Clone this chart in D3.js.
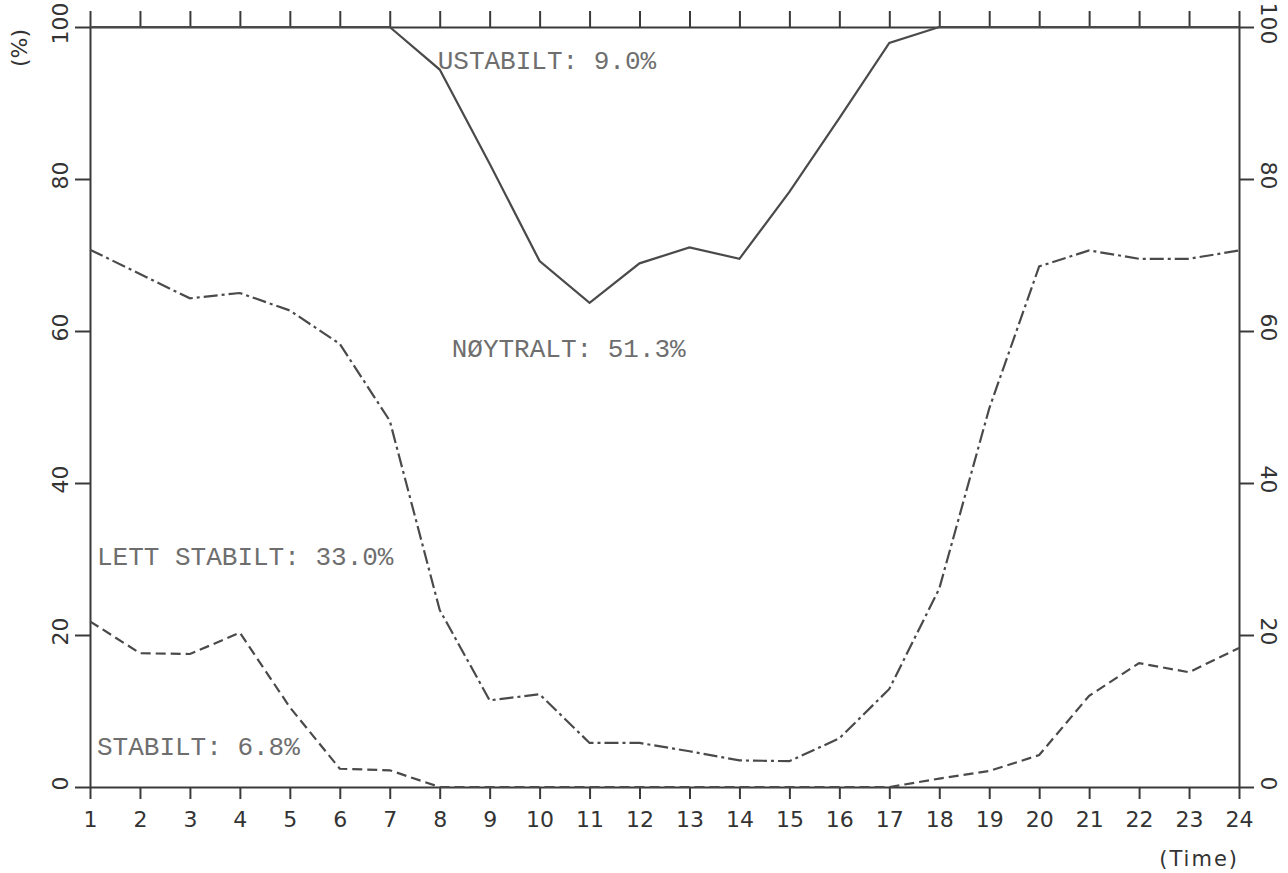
<!DOCTYPE html>
<html>
<head>
<meta charset="utf-8">
<script src="https://cdn.jsdelivr.net/npm/d3@7"></script>
<style>
  body { margin: 0; background: #fff; }
  svg { display: block; }
</style>
</head>
<body>
<div id="chart"></div>
<script>
// hours of the day
var hours = d3.range(1, 25);

// cumulative frequency (%) per hour
var stabilt = [21.8, 17.6, 17.5, 20.3, 10.5, 2.4, 2.2, 0, 0, 0, 0, 0,
               0, 0, 0, 0, 0, 1.1, 2.1, 4.2, 12.0, 16.3, 15.1, 18.3];
var lettStabilt = [70.7, 67.5, 64.3, 65.0, 62.7, 58.3, 48.2, 23.3, 11.4, 12.2, 5.8, 5.8,
                   4.7, 3.5, 3.4, 6.4, 12.9, 26.1, 49.8, 68.5, 70.6, 69.5, 69.5, 70.6];
var noytralt = [100, 100, 100, 100, 100, 100, 100, 94.4, 82.0, 69.2, 63.7, 68.9,
                71.0, 69.5, 78.3, 88.0, 97.9, 100, 100, 100, 100, 100, 100, 100];

var yTicks = [0, 20, 40, 60, 80, 100];

var labels = [
  {text: "USTABILT: 9.0%", hour: 7.96, value: 94.5},
  {text: "NØYTRALT: 51.3%", hour: 8.24, value: 56.6},
  {text: "LETT STABILT: 33.0%", hour: 1.14, value: 29.2},
  {text: "STABILT: 6.8%", hour: 1.14, value: 4.2}
];

var W = 1288, H = 873;
var margin = {top: 27, right: 49, bottom: 86, left: 90};

var svg = d3.select("#chart")
  .append("svg")
    .attr("width", W)
    .attr("height", H);

var x = d3.scaleLinear()
  .domain([1, 24])
  .range([margin.left, W - margin.right]);

var y = d3.scaleLinear()
  .domain([0, 100])
  .range([H - margin.bottom, margin.top]);

var axisColor = "#3a3a3a";
var tickFont = "'DejaVu Sans', sans-serif";

function styleAxis(g) {
  g.selectAll("path, line").attr("stroke", axisColor).attr("stroke-width", 2);
  g.selectAll("text").attr("fill", "#333").style("font-family", tickFont).style("font-size", "22px");
}

// bottom axis
svg.append("g")
  .attr("transform", "translate(0," + y(0) + ")")
  .call(d3.axisBottom(x).tickValues(hours).tickFormat(d3.format("d")).tickSize(12).tickSizeOuter(0).tickPadding(12))
  .call(styleAxis);

// top axis (ticks only)
svg.append("g")
  .attr("transform", "translate(0," + y(100) + ")")
  .call(d3.axisTop(x).tickValues(hours).tickFormat("").tickSize(16).tickSizeOuter(0))
  .call(styleAxis);

// left axis
svg.append("g")
  .attr("transform", "translate(" + x(1) + ",0)")
  .call(d3.axisLeft(y).tickValues(yTicks).tickSize(15).tickSizeOuter(0))
  .call(styleAxis)
  .selectAll("text")
    .attr("x", null).attr("dy", null)
    .attr("text-anchor", "middle")
    .attr("transform", "translate(-22,-4) rotate(-90)");

// right axis
svg.append("g")
  .attr("transform", "translate(" + x(24) + ",0)")
  .call(d3.axisRight(y).tickValues(yTicks).tickSize(15).tickSizeOuter(0))
  .call(styleAxis)
  .selectAll("text")
    .attr("x", null).attr("dy", null)
    .attr("text-anchor", "middle")
    .attr("transform", "translate(22,-4) rotate(90)");

// axis titles
svg.append("text")
  .attr("transform", "translate(27,48) rotate(-90)")
  .attr("text-anchor", "middle")
  .attr("fill", "#333")
  .style("font-family", tickFont)
  .style("font-size", "22px")
  .text("(%)");

svg.append("text")
  .attr("x", x(24))
  .attr("y", 866)
  .attr("text-anchor", "end")
  .attr("fill", "#333")
  .style("font-family", tickFont)
  .style("font-size", "21px")
  .style("letter-spacing", "2px")
  .text("(Time)");

// lines
var line = d3.line()
  .x(function(d, i) { return x(hours[i]); })
  .y(function(d) { return y(d); });

var series = [
  {values: noytralt, dash: null},
  {values: lettStabilt, dash: "14,4,3,4"},
  {values: stabilt, dash: "10,5"}
];

svg.selectAll(".series")
  .data(series)
  .enter()
  .append("path")
    .attr("class", "series")
    .attr("d", function(d) { return line(d.values); })
    .attr("fill", "none")
    .attr("stroke", "#4a4a4a")
    .attr("stroke-width", 2.2)
    .attr("stroke-dasharray", function(d) { return d.dash; });

// class labels
svg.selectAll(".lbl")
  .data(labels)
  .enter()
  .append("text")
    .attr("class", "lbl")
    .attr("x", function(d) { return x(d.hour); })
    .attr("y", function(d) { return y(d.value); })
    .attr("fill", "#6e6e6e")
    .style("font-family", "'Liberation Mono', 'Courier New', monospace")
    .style("font-size", "26px")
    .text(function(d) { return d.text; });
</script>
</body>
</html>
